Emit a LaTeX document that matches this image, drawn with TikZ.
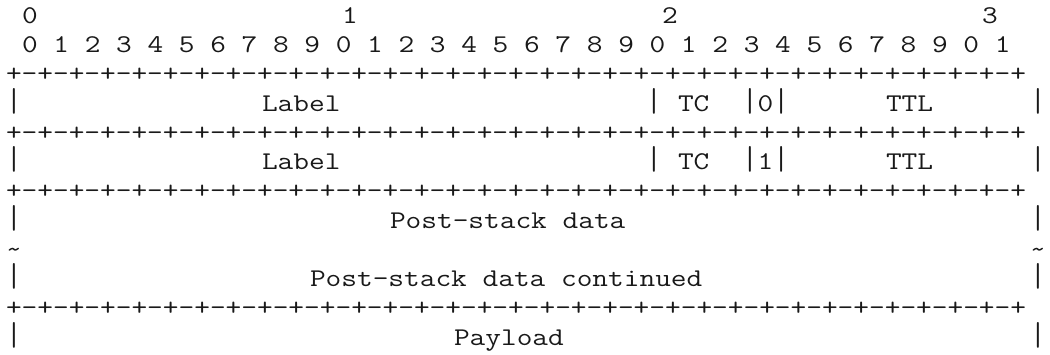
\documentclass[tikz,border=0pt]{standalone}
\usepackage{fontspec}
\usepackage{graphicx}
\begin{document}
\begin{tikzpicture}[x=1pt,y=1pt,
  asc/.style={inner sep=0pt, outer sep=0pt, anchor=base west,
    font=\ttfamily\fontsize{25.5pt}{29.25pt}\selectfont, text=black!90}]
% page frame
\fill[white] (0,0) rectangle (1050,-354);
\useasboundingbox (0,0) rectangle (1050,-354);
% one monospaced cell is 16pt wide, one line is 29.25pt high;
% the typewriter face is widened so that its cells are 16pt
\newcommand\cellat[4]{\node[asc] (#1) at ({6+#2*16},{-23.3-#3*29.25})
  {\scalebox{1.195}[1]{#4}};}
% a taller vertical bar, reaching almost from line to line
\newcommand\vbar{\smash{\scalebox{1}[1.3]{|}}}
\newcommand\rulerow{+-+-+-+-+-+-+-+-+-+-+-+-+-+-+-+-+-+-+-+-+-+-+-+-+-+-+-+-+-+-+-+-+}
% bit numbering
\cellat{tens0}{1}{0}{0}
\cellat{tens1}{21}{0}{1}
\cellat{tens2}{41}{0}{2}
\cellat{tens3}{61}{0}{3}
\cellat{bits}{1}{1}{0 1 2 3 4 5 6 7 8 9 0 1 2 3 4 5 6 7 8 9 0 1 2 3 4 5 6 7 8 9 0 1}
% first label stack entry
\cellat{ruleA}{0}{2}{\rulerow}
\cellat{barAa}{0}{3}{\vbar}
\cellat{labelA}{16}{3}{Label}
\cellat{barAb}{40}{3}{\vbar}
\cellat{tcA}{42}{3}{TC}
\cellat{bosA}{46}{3}{\vbar0\vbar}
\cellat{ttlA}{55}{3}{TTL}
\cellat{barAc}{64}{3}{\vbar}
% second label stack entry
\cellat{ruleB}{0}{4}{\rulerow}
\cellat{barBa}{0}{5}{\vbar}
\cellat{labelB}{16}{5}{Label}
\cellat{barBb}{40}{5}{\vbar}
\cellat{tcB}{42}{5}{TC}
\cellat{bosB}{46}{5}{\vbar1\vbar}
\cellat{ttlB}{55}{5}{TTL}
\cellat{barBc}{64}{5}{\vbar}
% post-stack data
\cellat{ruleC}{0}{6}{\rulerow}
\cellat{barCa}{0}{7}{\vbar}
\cellat{post}{24}{7}{Post-stack data}
\cellat{barCb}{64}{7}{\vbar}
\cellat{tildeL}{0}{8}{\textasciitilde}
\cellat{tildeR}{64}{8}{\textasciitilde}
\cellat{barDa}{0}{9}{\vbar}
\cellat{postcont}{19}{9}{Post-stack data continued}
\cellat{barDb}{64}{9}{\vbar}
% payload
\cellat{ruleD}{0}{10}{\rulerow}
\cellat{barEa}{0}{11}{\vbar}
\cellat{payload}{28}{11}{Payload}
\cellat{barEb}{64}{11}{\vbar}
\end{tikzpicture}
\end{document}
